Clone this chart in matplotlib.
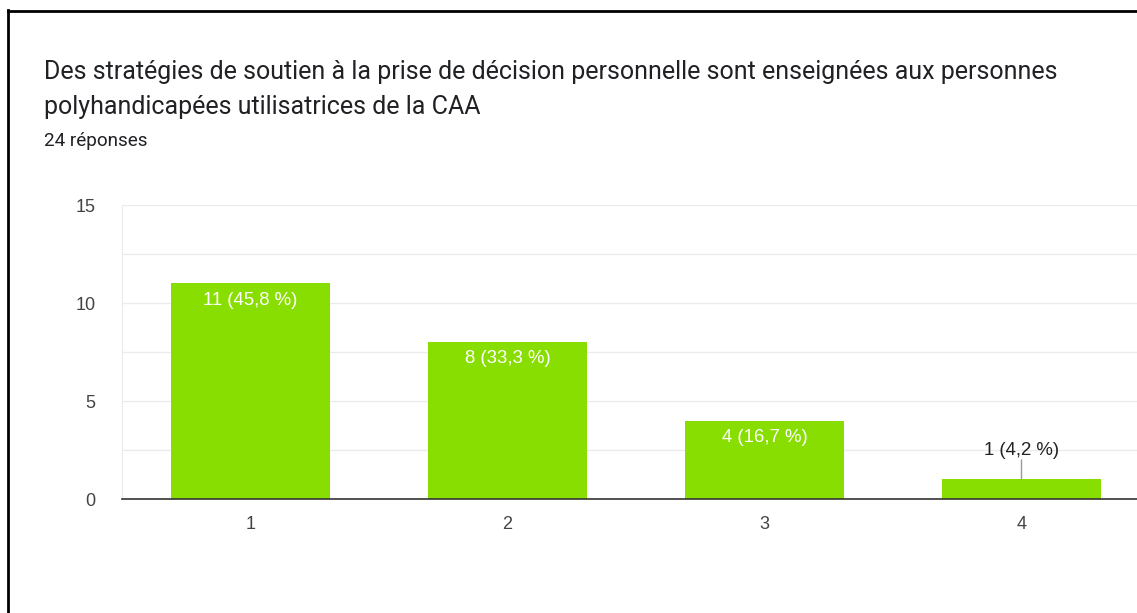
import matplotlib
matplotlib.use('Agg')
import matplotlib.pyplot as plt
from matplotlib.lines import Line2D

# data
categories = ['1', '2', '3', '4']
counts = [11, 8, 4, 1]
labels = ['11 (45,8 %)', '8 (33,3 %)', '4 (16,7 %)', '1 (4,2 %)']
yticks = [0, 5, 10, 15]

W, H = 1137, 613
fig = plt.figure(figsize=(W / 100, H / 100), dpi=100)

# axes spill a little past the right edge like in the screenshot
left, right, top, bottom = 122, 1150, 205, 499
ax = fig.add_axes([left / W, 1 - bottom / H, (right - left) / W, (bottom - top) / H])

green = '#88de00'
x = list(range(1, len(categories) + 1))
ax.bar(x, counts, width=0.62, color=green, zorder=3)

ax.set_xlim(0.5, 4.5)
ax.set_ylim(0, 15)
ax.set_yticks(yticks)
ax.set_yticks([2.5, 7.5, 12.5], minor=True)
ax.set_xticks(x)
ax.set_xticklabels(categories)
ax.grid(axis='y', which='both', color='#ebebeb', linewidth=1, zorder=0)
ax.tick_params(axis='both', which='both', length=0, labelsize=13, labelcolor='#444444')
ax.tick_params(axis='y', pad=19)
ax.tick_params(axis='x', pad=12)
for lab in ax.get_xticklabels() + ax.get_yticklabels():
    lab.set_fontfamily('Liberation Sans')

for s in ['top', 'right']:
    ax.spines[s].set_visible(False)
ax.spines['left'].set_color('#ebebeb')
ax.spines['bottom'].set_color('#333333')
ax.spines['bottom'].set_linewidth(1.2)
ax.spines['bottom'].set_zorder(4)

for xi, v, lab in zip(x, counts, labels):
    if v >= 3:
        ax.annotate(lab, (xi, v), xytext=(0, -12), textcoords='offset points',
                    ha='center', va='center', color='white', fontsize=13.4,
                    family='Liberation Sans', zorder=5)
    else:
        ax.annotate(lab, (xi, v), xytext=(0, 21), textcoords='offset points',
                    ha='center', va='center', color='#222222', fontsize=13.4,
                    family='Liberation Sans', zorder=5)
        ax.annotate('', (xi, v), xytext=(0, 14), textcoords='offset points',
                    arrowprops=dict(arrowstyle='-', color='#999999', lw=1,
                                    shrinkA=0, shrinkB=0), zorder=5)

# titles
fig.text(44 / W, 1 - 72 / H, 'Des stratégies de soutien à la prise de décision personnelle sont enseignées aux personnes',
         fontsize=18, family='Roboto', color='#202124', va='center')
fig.text(44 / W, 1 - 107 / H, 'polyhandicapées utilisatrices de la CAA',
         fontsize=18, family='Roboto', color='#202124', va='center')
fig.text(44 / W, 1 - 141 / H, '24 réponses',
         fontsize=13.6, family='Roboto', color='#202124', va='center')

# black frame of the screenshot (left and top)
fig.add_artist(Line2D([8 / W, 8 / W], [0, 1 - 10 / H], transform=fig.transFigure,
                      color='black', linewidth=2))
fig.add_artist(Line2D([8 / W, 1], [1 - 11 / H, 1 - 11 / H], transform=fig.transFigure,
                      color='black', linewidth=2))

fig.savefig('out.png', dpi=100)
